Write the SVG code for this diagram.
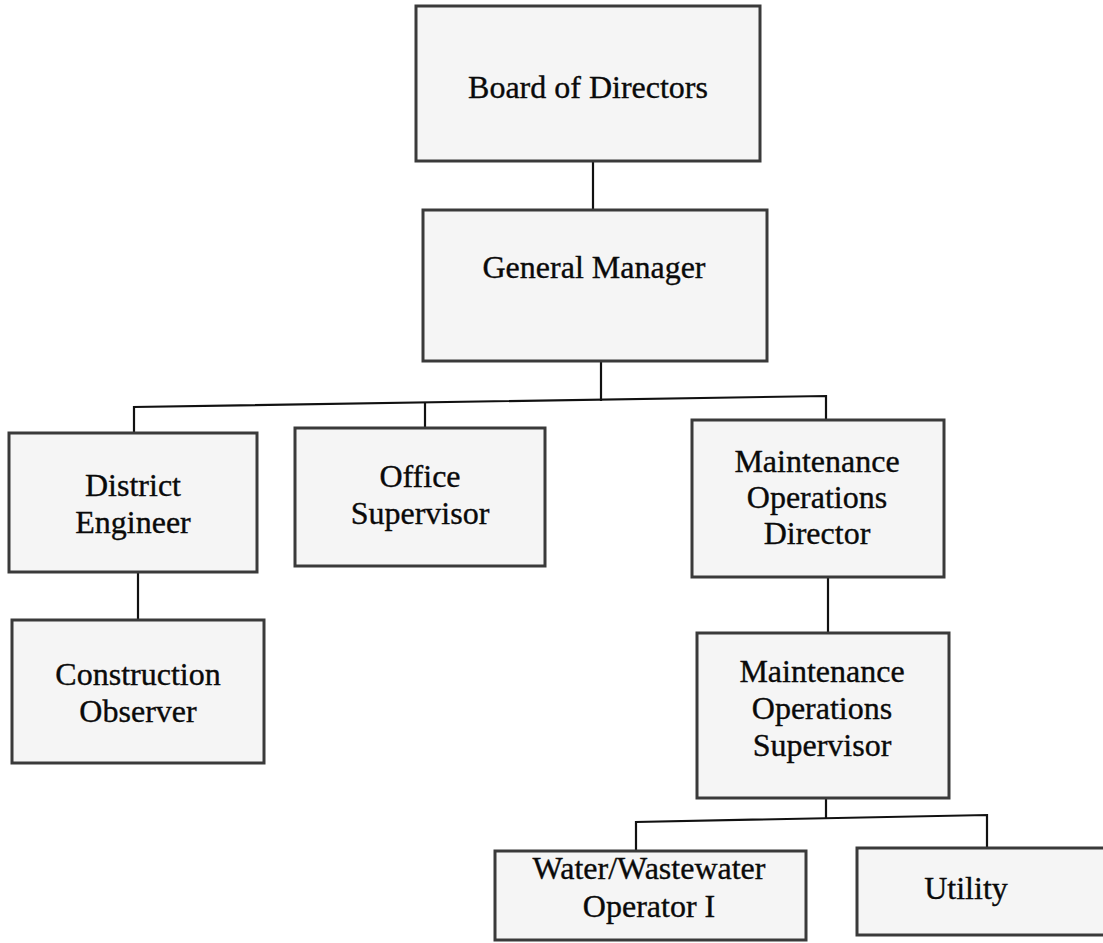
<svg xmlns="http://www.w3.org/2000/svg" width="1103" height="943" viewBox="0 0 1103 943">
<style>
.box{fill:#f5f5f5;stroke:#3a3a3a;stroke-width:3}
.lbl{font-family:"Liberation Serif","Times New Roman",serif;font-size:32px;fill:#0a0a0a;stroke:#0a0a0a;stroke-width:0.35;text-anchor:middle}
.con{fill:none;stroke:#111;stroke-width:2.2}
</style>
<rect width="1103" height="943" fill="#ffffff"/>
<g id="connectors">
<path class="con" d="M593,161 V210"/>
<path class="con" d="M601,361 V401"/>
<path class="con" d="M134,433 V407 L826,396 V420"/>
<path class="con" d="M425,403 V428"/>
<path class="con" d="M138,572 V620"/>
<path class="con" d="M828,577 V633"/>
<path class="con" d="M826,798 V819"/>
<path class="con" d="M636,851 V822 L987,815 V848"/>
</g>
<g id="board">
<rect class="box" x="416" y="6" width="344" height="155"/>
<text class="lbl" x="588" y="98">Board of Directors</text>
</g>
<g id="general-manager">
<rect class="box" x="423" y="210" width="344" height="151"/>
<text class="lbl" x="594" y="278">General Manager</text>
</g>
<g id="district-engineer">
<rect class="box" x="9" y="433" width="248" height="139"/>
<text class="lbl" x="133" y="496">District</text>
<text class="lbl" x="133" y="533">Engineer</text>
</g>
<g id="office-supervisor">
<rect class="box" x="295" y="428" width="250" height="138"/>
<text class="lbl" x="420" y="487">Office</text>
<text class="lbl" x="420" y="524">Supervisor</text>
</g>
<g id="construction-observer">
<rect class="box" x="12" y="620" width="252" height="143"/>
<text class="lbl" x="138" y="685">Construction</text>
<text class="lbl" x="138" y="722">Observer</text>
</g>
<g id="maintenance-operations-director">
<rect class="box" x="692" y="420" width="252" height="157"/>
<text class="lbl" x="817" y="472">Maintenance</text>
<text class="lbl" x="817" y="508">Operations</text>
<text class="lbl" x="817" y="544">Director</text>
</g>
<g id="maintenance-operations-supervisor">
<rect class="box" x="697" y="633" width="252" height="165"/>
<text class="lbl" x="822" y="682">Maintenance</text>
<text class="lbl" x="822" y="719">Operations</text>
<text class="lbl" x="822" y="756">Supervisor</text>
</g>
<g id="water-wastewater-operator">
<rect class="box" x="495" y="851" width="311" height="89"/>
<text class="lbl" x="649" y="879">Water/Wastewater</text>
<text class="lbl" x="649" y="917">Operator I</text>
</g>
<g id="utility">
<rect class="box" x="857" y="848" width="250" height="87"/>
<text class="lbl" x="966" y="899">Utility</text>
</g>
</svg>
